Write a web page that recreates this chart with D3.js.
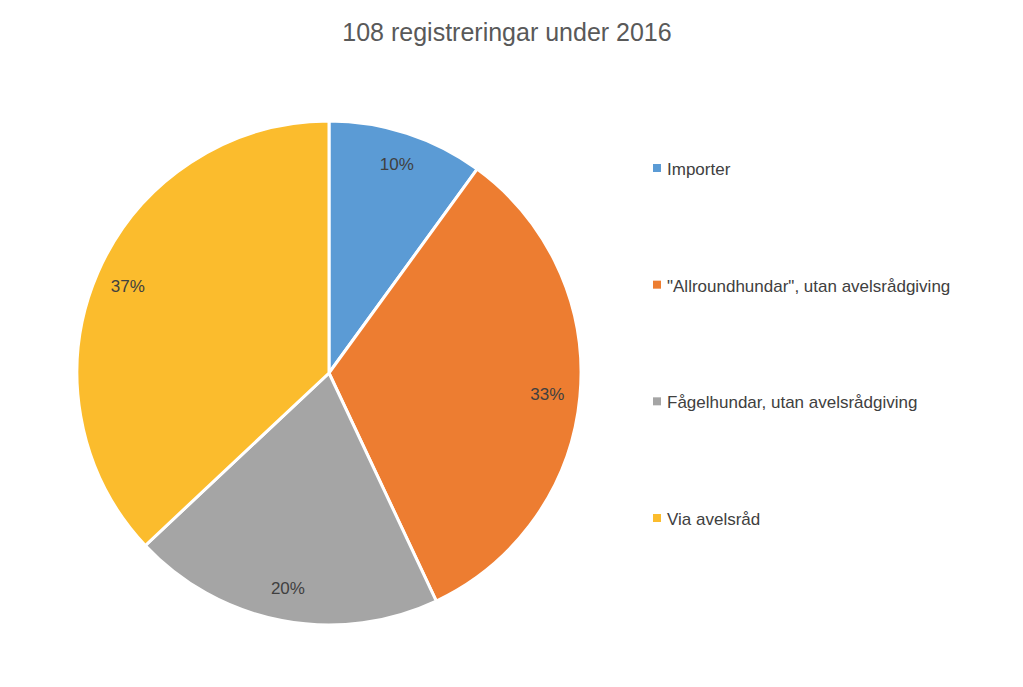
<!DOCTYPE html>
<html><head><meta charset="utf-8">
<script src="https://cdn.jsdelivr.net/npm/d3@7"></script>
<style>body{margin:0;background:#fff}</style></head>
<body><svg id="c" width="1023" height="687"></svg>
<script>
const categories = ["Importer", "\"Allroundhundar\", utan avelsrådgiving", "Fågelhundar, utan avelsrådgiving", "Via avelsråd"];
const values = [10, 33, 20, 37];
const colors = ["#5b9bd5", "#ed7d31", "#a5a5a5", "#fbbc2d"];
const title = "108 registreringar  under 2016";

const svg = d3.select("#c");
const cx = 329, cy = 373, R = 252;
svg.append("text").attr("x", 507).attr("y", 41).attr("text-anchor", "middle")
  .attr("font-family", "Liberation Sans, Arial, sans-serif").attr("font-size", 25).attr("fill", "#595959").text(title);

const pie = d3.pie().sort(null).value(d => d)(values);
const arc = d3.arc().innerRadius(0).outerRadius(R);
const labelArc = d3.arc().innerRadius(R * 0.87).outerRadius(R * 0.87);
const g = svg.append("g").attr("transform", `translate(${cx},${cy})`);
g.selectAll("path").data(pie).join("path").attr("d", arc)
  .attr("fill", (d, i) => colors[i]).attr("stroke", "#fff").attr("stroke-width", 3);
g.selectAll("text").data(pie).join("text")
  .attr("transform", d => `translate(${labelArc.centroid(d)})`)
  .attr("text-anchor", "middle").attr("dy", "0.35em")
  .attr("font-family", "Liberation Sans, Arial, sans-serif").attr("font-size", 17).attr("fill", "#404040")
  .text(d => d.data + "%");

const ly = d3.scalePoint().domain(categories).range([169, 519]);
const lg = svg.append("g");
categories.forEach((c, i) => {
  lg.append("rect").attr("x", 653).attr("y", ly(c) - 5).attr("width", 8).attr("height", 8).attr("fill", colors[i]);
  lg.append("text").attr("x", 667).attr("y", ly(c)).attr("dy", "0.35em")
    .attr("font-family", "Liberation Sans, Arial, sans-serif").attr("font-size", 17).attr("fill", "#404040").text(c);
});
</script></body></html>
